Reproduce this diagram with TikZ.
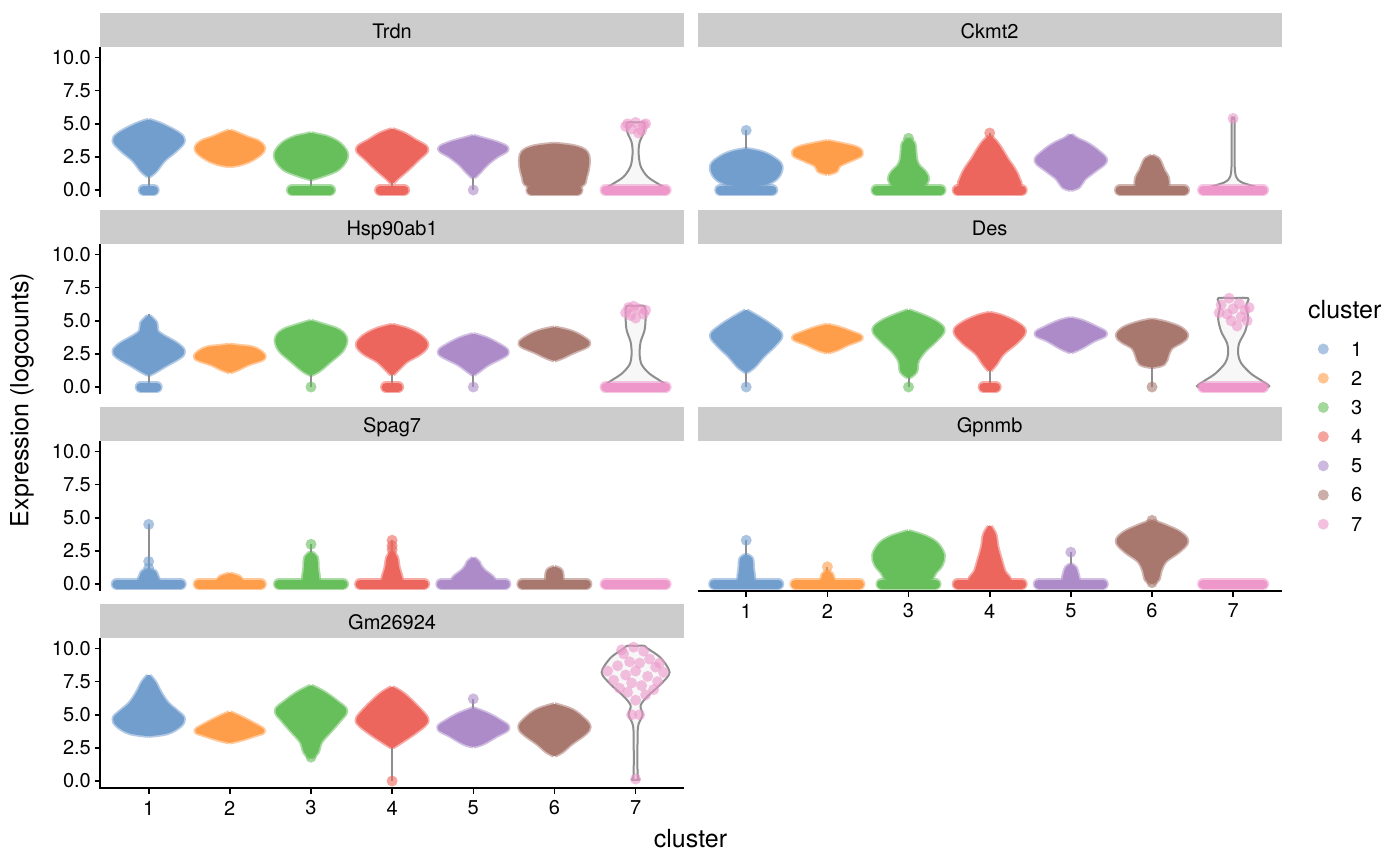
\documentclass[tikz,border=0pt]{standalone}
\usepackage{fontspec}
\setmainfont{TeX Gyre Heros}
\definecolor{cA}{HTML}{729ECE}
\definecolor{cB}{HTML}{FF9E4A}
\definecolor{cC}{HTML}{67BF5C}
\definecolor{cD}{HTML}{ED665D}
\definecolor{cE}{HTML}{AD8BC9}
\definecolor{cF}{HTML}{A8786E}
\definecolor{cG}{HTML}{ED97CA}
\definecolor{stripgrey}{HTML}{CCCCCC}
\definecolor{vgrey}{HTML}{8E8E8E}
\definecolor{vfill}{HTML}{F7F7F7}
\tikzset{
  axisline/.style={line width=1.6pt, black},
  ticktext/.style={font=\fontsize{20}{20}\selectfont, inner sep=0pt},
  striptext/.style={font=\fontsize{20}{20}\selectfont, inner sep=0pt, anchor=base},
  titletext/.style={font=\fontsize{25}{25}\selectfont, inner sep=0pt},
  stripbox/.style={fill=stripgrey, draw=none},
}
% blob of points: x, y0, colour, right-half profile (halfwidth px, value)
\newcommand\vblob[4]{%
  \foreach \s in {1,-1}{%
    \begin{scope}[shift={(#1,#2)}, xscale=\s*0.92, yscale=-13.25]
      \draw[#3, opacity=0.55, line width=6.5pt, line join=round] plot[smooth, tension=0.6] coordinates {#4};
    \end{scope}}%
  \foreach \s in {1,-1}{%
    \begin{scope}[shift={(#1,#2)}, xscale=\s*0.92, yscale=-13.25]
      \filldraw[#3, line width=3pt, line join=round] plot[smooth, tension=0.6] coordinates {#4} -- cycle;
    \end{scope}}}
% grey violin outline: x, y0, right-half profile
\newcommand\vout[3]{%
  \foreach \s in {1,-1}{%
    \begin{scope}[shift={(#1,#2)}, xscale=\s, yscale=-13.25]
      \filldraw[vfill, line width=1pt] plot[smooth, tension=0.5] coordinates {#3} -- cycle;
    \end{scope}}%
  \foreach \s in {1,-1}{%
    \begin{scope}[shift={(#1,#2)}, xscale=\s, yscale=-13.25]
      \draw[vgrey, line width=2pt, line join=round] plot[smooth, tension=0.5] coordinates {#3};
    \end{scope}}}
% bar of points at zero: x, y0, half length, colour
\newcommand\vbar[4]{%
  \draw[#4, opacity=0.55, line width=12pt, line cap=round] ({#1-#3},#2) -- ({#1+#3},#2);
  \draw[#4, line width=9pt, line cap=round] ({#1-#3},#2) -- ({#1+#3},#2);}
% grey stem: x, y0, from, to
\newcommand\vstem[4]{\draw[vgrey, line width=2pt] (#1,{#2-13.25*#3}) -- (#1,{#2-13.25*#4});}
% single point: x, y0, value, dx, colour
\newcommand\vdot[5]{\fill[#5, opacity=0.6] ({#1+#4},{#2-13.25*#3}) circle (5.5);}
\begin{document}
\begin{tikzpicture}[x=1pt, y=-1pt]
\fill[white] (0,0) rectangle (1400,865);
\useasboundingbox (0,0) rectangle (1400,865);

% ---------- strips ----------
\foreach \r/\lab in {0/Trdn,1/Hsp90ab1,2/Spag7,3/Gm26924}{
  \fill[stripbox] (100,{13+197*\r}) rectangle (684.3,{47+197*\r});
  \node[striptext] (sl\r) at (392.1,{38+197*\r}) {\lab};
}
\foreach \r/\lab in {0/Ckmt2,1/Des,2/Gpnmb}{
  \fill[stripbox] (697.5,{13+197*\r}) rectangle (1281.6,{47+197*\r});
  \node[striptext] (sr\r) at (989.6,{38+197*\r}) {\lab};
}

% ---------- y axes ----------
\foreach \r in {0,1,2,3}{
  \draw[axisline] (100,{47+197*\r}) -- (100,{196.8+197*\r});
  \foreach \v/\t [count=\i] in {0/0.0,2.5/2.5,5/5.0,7.5/7.5,10/10.0}{
    \draw[axisline] (94.5,{190+197*\r-13.25*\v}) -- (100,{190+197*\r-13.25*\v});
    \node[ticktext, anchor=east] (yt\r\i) at (91,{190+197*\r-13.25*\v}) {\t};
  }
}
% ---------- x axes ----------
\draw[axisline] (99.2,787.8) -- (684.3,787.8);
\draw[axisline] (697.5,590.8) -- (1281.6,590.8);
\foreach \k [count=\i] in {148.7,229.8,311.0,392.1,473.3,554.4,635.6}{
  \draw[axisline] (\k,787.8) -- (\k,793.5);
  \node[ticktext] (xl\i) at (\k,808) {\i};
}
\foreach \k [count=\i] in {746.2,827.4,908.5,989.7,1070.8,1152.0,1233.1}{
  \draw[axisline] (\k,590.8) -- (\k,596.5);
  \node[ticktext] (xr\i) at (\k,611) {\i};
}

% ---------- titles ----------
\node[titletext, rotate=90] (ytitle) at (22,400) {Expression (logcounts)};
\node[titletext, anchor=base] (xtitle) at (690.5,847) {cluster};

% ---------- legend ----------
\node[titletext, anchor=base west] (legtitle) at (1308,318) {cluster};
\foreach \c [count=\i] in {cA,cB,cC,cD,cE,cF,cG}{
  \fill[\c, opacity=0.6] (1323.3,{349+29.2*(\i-1)}) circle (5.5);
  \node[ticktext, anchor=west] (leg\i) at (1351,{349+29.2*(\i-1)}) {\i};
}

% =============== Row 1 left: Trdn (y0=190) ===============
\vout{635.6}{190}{(0,0)(32,0)(24,0.4)(12,1.0)(5,1.8)(3,2.8)(4,3.6)(8,4.3)(9,4.8)(8,5.1)(0,5.1)}
\vstem{148.7}{190}{0}{1.2}
\vstem{311.0}{190}{0}{1.0}
\vstem{392.1}{190}{0}{1.0}
\vstem{473.3}{190}{0}{1.0}
\vbar{148.7}{190}{5}{cA}
\vblob{148.7}{190}{cA}{(0,1.1)(7,1.5)(16,2.3)(28,3.0)(37,3.7)(32,4.2)(16,4.8)(5,5.1)(0,5.2)}
\vblob{229.8}{190}{cB}{(0,1.9)(10,2.0)(22,2.3)(33,2.8)(36,3.2)(30,3.6)(18,3.9)(8,4.2)(0,4.4)}
\vbar{311.0}{190}{19}{cC}
\vblob{311.0}{190}{cC}{(0,0.9)(14,1.2)(30,1.7)(38,2.6)(31,3.4)(18,3.9)(6,4.1)(0,4.2)}
\vbar{392.1}{190}{12}{cD}
\vblob{392.1}{190}{cD}{(0,0.6)(6,1.0)(16,1.6)(28,2.4)(37,3.1)(24,3.7)(12,4.2)(0,4.5)}
\vdot{473.3}{190}{0}{0}{cE}
\vblob{473.3}{190}{cE}{(0,1.0)(6,1.4)(14,2.0)(25,2.6)(36,3.1)(25,3.5)(10,3.8)(0,4.0)}
\vbar{554.4}{190}{23}{cF}
\vblob{554.4}{190}{cF}{(0,0.3)(28,0.4)(33,1.0)(36,2.0)(34,2.8)(22,3.2)(0,3.4)}
\vbar{635.6}{190}{30}{cG}
\foreach \v/\d in {5.0/-8,5.1/0,4.9/8,4.6/-4,4.3/3,4.8/-10,5.0/10,4.5/6}{\vdot{635.6}{190}{\v}{\d}{cG}}

% =============== Row 1 right: Ckmt2 (y0=190) ===============
\vout{1233.1}{190}{(0,0)(33,0)(20,0.3)(8,0.6)(3,1.0)(1.5,2)(1.5,5.3)(0,5.3)}
\vstem{746.2}{190}{0}{4.5}
\vstem{908.5}{190}{0}{3.9}
\vstem{989.7}{190}{0}{4.3}
\vbar{746.2}{190}{26}{cA}
\vblob{746.2}{190}{cA}{(0,0.4)(20,0.5)(33,1.0)(37,1.8)(28,2.4)(15,2.8)(0,3.0)}
\vdot{746.2}{190}{4.5}{0}{cA}
\vblob{827.4}{190}{cB}{(0,1.3)(9,1.5)(12,1.9)(24,2.3)(36,2.7)(32,3.1)(15,3.4)(0,3.6)}
\vbar{908.5}{190}{32}{cC}
\vblob{908.5}{190}{cC}{(0,0.2)(14,0.3)(20,0.8)(17,1.3)(10,1.8)(7,2.3)(6,3.0)(5,3.5)(0,3.8)}
\vdot{908.5}{190}{3.9}{0}{cC}
\vbar{989.7}{190}{32}{cD}
\vblob{989.7}{190}{cD}{(0,0.2)(30,0.3)(30,0.9)(25,1.6)(18,2.3)(12,3.0)(6,3.6)(0,4.0)}
\vdot{989.7}{190}{4.3}{0}{cD}
\vblob{1070.8}{190}{cE}{(0,0.1)(8,0.3)(14,0.9)(25,1.5)(37,2.2)(30,2.8)(18,3.4)(6,3.8)(0,4.1)}
\vbar{1152.0}{190}{32}{cF}
\vblob{1152.0}{190}{cF}{(0,0.2)(15,0.3)(16,0.9)(12,1.4)(9,1.9)(6,2.3)(0,2.5)}
\vbar{1233.1}{190}{30}{cG}
\vdot{1233.1}{190}{5.4}{0}{cG}

% =============== Row 2 left: Hsp90ab1 (y0=387) ===============
\vout{635.6}{387}{(0,0)(32,0)(26,0.4)(14,1.0)(6,1.7)(4,2.5)(5,3.4)(9,4.3)(10,5.3)(9,6.1)(0,6.1)}
\vstem{148.7}{387}{0}{5.5}
\vstem{311.0}{387}{0}{1.0}
\vstem{392.1}{387}{0}{1.2}
\vstem{473.3}{387}{0}{1.0}
\vbar{148.7}{387}{8}{cA}
\vblob{148.7}{387}{cA}{(0,1.0)(6,1.2)(18,1.7)(33,2.3)(37,2.7)(30,3.2)(15,3.8)(8,4.2)(7,4.8)(0,5.3)}
\vblob{229.8}{387}{cB}{(0,1.2)(8,1.4)(20,1.8)(36,2.2)(33,2.6)(24,2.9)(12,3.0)(0,3.1)}
\vdot{311.0}{387}{0}{0}{cC}
\vblob{311.0}{387}{cC}{(0,1.0)(8,1.3)(20,2.0)(33,2.8)(37,3.6)(30,4.2)(14,4.6)(0,4.9)}
\vbar{392.1}{387}{6}{cD}
\vblob{392.1}{387}{cD}{(0,1.0)(6,1.4)(15,2.0)(30,2.6)(37,3.2)(30,3.8)(16,4.3)(0,4.6)}
\vdot{473.3}{387}{0}{0}{cE}
\vblob{473.3}{387}{cE}{(0,1.0)(6,1.3)(16,1.8)(33,2.4)(36,2.7)(28,3.1)(14,3.6)(0,3.9)}
\vblob{554.4}{387}{cF}{(0,2.1)(8,2.3)(20,2.7)(36,3.2)(32,3.6)(18,4.1)(0,4.4)}
\vbar{635.6}{387}{30}{cG}
\foreach \v/\d in {6.0/-7,5.9/3,5.6/-10,5.5/8,5.2/0,5.8/10,6.1/-2,5.4/-5}{\vdot{635.6}{387}{\v}{\d}{cG}}

% =============== Row 2 right: Des (y0=387) ===============
\vout{1233.1}{387}{(0,0)(35,0)(30,0.4)(18,1.0)(8,1.8)(5,2.5)(6,3.3)(12,4.2)(15,5.2)(13,6.1)(15,6.7)(0,6.7)}
\vstem{746.2}{387}{0}{1.2}
\vstem{908.5}{387}{0}{0.8}
\vstem{989.7}{387}{0}{1.3}
\vstem{1152.0}{387}{0}{1.6}
\vdot{746.2}{387}{0}{0}{cA}
\vblob{746.2}{387}{cA}{(0,1.2)(8,1.6)(18,2.4)(30,3.2)(37,3.9)(28,4.5)(15,5.1)(0,5.7)}
\vblob{827.4}{387}{cB}{(0,2.7)(10,2.9)(22,3.3)(36,3.7)(28,4.0)(12,4.4)(0,4.6)}
\vdot{908.5}{387}{0}{0}{cC}
\vblob{908.5}{387}{cC}{(0,0.8)(7,1.2)(9,2.0)(17,2.8)(28,3.5)(37,4.3)(28,4.9)(12,5.4)(0,5.7)}
\vbar{989.7}{387}{6}{cD}
\vblob{989.7}{387}{cD}{(0,1.3)(6,1.8)(14,2.6)(28,3.4)(37,4.2)(28,4.8)(12,5.3)(0,5.5)}
\vblob{1070.8}{387}{cE}{(0,2.7)(10,3.0)(25,3.6)(37,4.0)(28,4.4)(12,4.9)(0,5.1)}
\vdot{1152.0}{387}{0}{0}{cF}
\vblob{1152.0}{387}{cF}{(0,1.6)(12,1.8)(16,2.4)(20,3.0)(32,3.5)(37,3.9)(30,4.4)(14,4.8)(0,5.0)}
\vbar{1233.1}{387}{30}{cG}
\foreach \v/\d in {6.7/-4,6.2/-12,6.3/6,5.9/0,5.6/-14,5.8/12,5.5/-6,5.3/8,5.0/-2,5.0/14,4.6/4,6.0/16}{\vdot{1233.1}{387}{\v}{\d}{cG}}

% =============== Row 3 left: Spag7 (y0=584) ===============
\vstem{148.7}{584}{0}{4.5}
\vstem{311.0}{584}{0}{3.0}
\vstem{392.1}{584}{0}{3.3}
\vbar{148.7}{584}{32}{cA}
\vblob{148.7}{584}{cA}{(0,0.2)(9,0.3)(8,0.6)(6,0.9)(0,1.0)}
\vdot{148.7}{584}{1.2}{0}{cA}
\vdot{148.7}{584}{1.7}{0}{cA}
\vdot{148.7}{584}{4.5}{0}{cA}
\vbar{229.8}{584}{31}{cB}
\vblob{229.8}{584}{cB}{(0,0.2)(11,0.3)(9,0.5)(0,0.7)}
\vbar{311.0}{584}{32}{cC}
\vblob{311.0}{584}{cC}{(0,0.2)(7,0.3)(6,1.2)(5,2.0)(0,2.3)}
\vdot{311.0}{584}{3.0}{0}{cC}
\vbar{392.1}{584}{32}{cD}
\vblob{392.1}{584}{cD}{(0,0.2)(9,0.3)(6,1.2)(4,2.0)(0,2.4)}
\foreach \v in {2.6,2.9,3.3}{\vdot{392.1}{584}{\v}{0}{cD}}
\vbar{473.3}{584}{32}{cE}
\vblob{473.3}{584}{cE}{(0,0.2)(20,0.3)(18,0.6)(12,0.9)(7,1.3)(5,1.6)(0,1.9)}
\vbar{554.4}{584}{32}{cF}
\vblob{554.4}{584}{cF}{(0,0.2)(7,0.3)(7,0.9)(4,1.1)(0,1.2)}
\vbar{635.6}{584}{30}{cG}

% =============== Row 3 right: Gpnmb (y0=584) ===============
\vstem{746.2}{584}{0}{3.3}
\vstem{827.4}{584}{0}{1.3}
\vstem{1070.8}{584}{0}{2.4}
\vbar{746.2}{584}{32}{cA}
\vblob{746.2}{584}{cA}{(0,0.2)(7,0.3)(6,1.2)(5,1.9)(0,2.1)}
\vdot{746.2}{584}{3.3}{0}{cA}
\vbar{827.4}{584}{32}{cB}
\vblob{827.4}{584}{cB}{(0,0.2)(5,0.3)(4,0.7)(0,0.9)}
\vdot{827.4}{584}{1.3}{0}{cB}
\vbar{908.5}{584}{27}{cC}
\vblob{908.5}{584}{cC}{(0,0.3)(22,0.4)(28,0.9)(35,1.5)(37,2.2)(30,3.0)(18,3.5)(0,3.9)}
\vbar{989.7}{584}{32}{cD}
\vblob{989.7}{584}{cD}{(0,0.2)(20,0.3)(15,0.9)(11,1.8)(7,2.8)(5,3.7)(0,4.3)}
\vbar{1070.8}{584}{32}{cE}
\vblob{1070.8}{584}{cE}{(0,0.2)(7,0.3)(6,0.8)(4,1.2)(0,1.4)}
\vdot{1070.8}{584}{2.4}{0}{cE}
\vblob{1152.0}{584}{cF}{(0,0.1)(6,0.4)(8,1.0)(14,1.8)(28,2.5)(37,3.2)(30,3.8)(15,4.3)(0,4.7)}
\vdot{1152.0}{584}{0.1}{0}{cF}
\vdot{1152.0}{584}{4.8}{0}{cF}
\vbar{1233.1}{584}{30}{cG}

% =============== Row 4 left: Gm26924 (y0=781) ===============
\vout{635.6}{781}{(0,0.1)(4,0.1)(2,0.5)(2,3.5)(3,4.3)(7,5.0)(5,5.7)(12,6.4)(25,7.3)(34,8.2)(25,9.3)(12,10.0)(9,10.2)(0,10.2)}
\vstem{392.1}{781}{0}{2.6}
\vstem{473.3}{781}{5.4}{6.2}
\vblob{148.7}{781}{cA}{(0,3.5)(20,3.7)(33,4.2)(37,4.7)(30,5.2)(20,5.8)(12,6.6)(6,7.4)(0,7.9)}
\vblob{229.8}{781}{cB}{(0,3.0)(12,3.2)(30,3.6)(36,3.8)(24,4.3)(10,4.8)(0,5.1)}
\vblob{311.0}{781}{cC}{(0,1.8)(6,2.2)(10,3.0)(20,3.8)(30,4.6)(37,5.3)(28,5.9)(14,6.6)(0,7.1)}
\vdot{311.0}{781}{1.8}{0}{cC}
\vdot{311.0}{781}{2.2}{0}{cC}
\vdot{392.1}{781}{0}{0}{cD}
\vblob{392.1}{781}{cD}{(0,2.6)(9,3.0)(22,3.6)(35,4.3)(37,4.7)(30,5.3)(20,6.0)(10,6.6)(0,7.0)}
\vdot{473.3}{781}{6.2}{0}{cE}
\vblob{473.3}{781}{cE}{(0,2.7)(10,2.9)(25,3.5)(37,4.0)(28,4.5)(15,5.0)(0,5.4)}
\vblob{554.4}{781}{cF}{(0,2.0)(8,2.3)(18,2.9)(32,3.6)(37,4.1)(30,4.7)(18,5.3)(0,5.7)}
\foreach \d/\v in {-2/10.1,8/9.8,-12/9.6,14/9.2,-6/9.0,4/8.9,-18/8.7,20/8.6,-28/8.3,28/8.2,0/8.3,-10/8.0,12/7.9,-22/7.6,22/7.5,-4/7.4,6/7.2,-16/7.0,18/6.9,-8/6.7,10/6.5,0/6.1,-4/5.0,4/5.0,0/0.15,-14/9.9,24/8.9}{\vdot{635.6}{781}{\v}{\d}{cG}}

\end{tikzpicture}
\end{document}
